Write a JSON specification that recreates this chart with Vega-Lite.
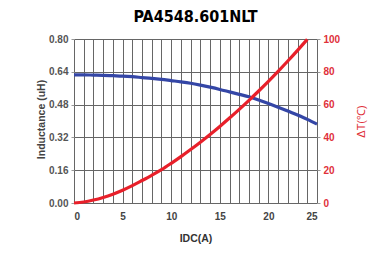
{
  "$schema": "https://vega.github.io/schema/vega-lite/v6.json",
  "width": 243,
  "height": 164,
  "autosize": "none",
  "padding": {"left": 74, "top": 39, "right": 52, "bottom": 52},
  "background": "white",
  "config": {"view": {"stroke": null}},
  "title": {
    "text": "PA4548.601NLT",
    "font": "Liberation Sans Narrow, DejaVu Sans Condensed, sans-serif",
    "fontSize": 16,
    "fontWeight": "bold",
    "color": "#000000",
    "anchor": "middle",
    "offset": 8
  },
  "datasets": {
    "ind": [
      {"idc": 0, "L": 0.625}, {"idc": 1, "L": 0.625}, {"idc": 2, "L": 0.624}, {"idc": 3, "L": 0.623},
      {"idc": 4, "L": 0.621}, {"idc": 5, "L": 0.619}, {"idc": 6, "L": 0.616}, {"idc": 7, "L": 0.612},
      {"idc": 8, "L": 0.608}, {"idc": 9, "L": 0.603}, {"idc": 10, "L": 0.597}, {"idc": 11, "L": 0.591},
      {"idc": 12, "L": 0.584}, {"idc": 13, "L": 0.575}, {"idc": 14, "L": 0.565}, {"idc": 15, "L": 0.554},
      {"idc": 16, "L": 0.542}, {"idc": 17, "L": 0.53}, {"idc": 18, "L": 0.518}, {"idc": 19, "L": 0.502},
      {"idc": 20, "L": 0.485}, {"idc": 21, "L": 0.467}, {"idc": 22, "L": 0.449}, {"idc": 23, "L": 0.429},
      {"idc": 24, "L": 0.408}, {"idc": 25, "L": 0.385}
    ],
    "temp": [
      {"idc": 0, "T": 0}, {"idc": 1, "T": 0.6}, {"idc": 2, "T": 1.8}, {"idc": 3, "T": 3.4},
      {"idc": 4, "T": 5.4}, {"idc": 5, "T": 7.8}, {"idc": 6, "T": 10.6}, {"idc": 7, "T": 13.7},
      {"idc": 8, "T": 16.9}, {"idc": 9, "T": 20.3}, {"idc": 10, "T": 24.2}, {"idc": 11, "T": 28.3},
      {"idc": 12, "T": 32.6}, {"idc": 13, "T": 37.1}, {"idc": 14, "T": 41.8}, {"idc": 15, "T": 46.7},
      {"idc": 16, "T": 51.8}, {"idc": 17, "T": 57.1}, {"idc": 18, "T": 62.6}, {"idc": 19, "T": 68.3},
      {"idc": 20, "T": 74.2}, {"idc": 21, "T": 80.3}, {"idc": 22, "T": 86.6}, {"idc": 23, "T": 93.1},
      {"idc": 24, "T": 99.8}
    ]
  },
  "encoding": {
    "x": {
      "field": "idc",
      "type": "quantitative",
      "scale": {"domain": [0, 25], "nice": false},
      "axis": {
        "title": "IDC(A)",
        "values": [0,1,2,3,4,5,6,7,8,9,10,11,12,13,14,15,16,17,18,19,20,21,22,23,24,25],
        "labelExpr": "datum.value % 5 === 0 ? datum.label : ''",
        "grid": true,
        "gridColor": "#666666",
        "gridOpacity": 1,
        "domain": false,
        "ticks": false,
        "labelPadding": 8,
        "labelFont": "Liberation Sans",
        "labelFontSize": 10,
        "labelFontWeight": "bold",
        "labelColor": "#444444",
        "titleFont": "Liberation Sans",
        "titleFontSize": 10.5,
        "titleFontWeight": "bold",
        "titleColor": "#333333",
        "titlePadding": 12
      }
    }
  },
  "layer": [
    {
      "data": {"name": "ind"},
      "mark": {"type": "line", "color": "#3446A6", "strokeWidth": 3.2, "interpolate": "monotone"},
      "encoding": {
        "y": {
          "field": "L",
          "type": "quantitative",
          "scale": {"domain": [0, 0.8], "nice": false},
          "axis": {
            "orient": "left",
            "title": "Inductance  (uH)",
            "values": [0, 0.16, 0.32, 0.48, 0.64, 0.8],
            "format": ".2f",
            "grid": true,
            "gridColor": "#666666",
            "gridOpacity": 1,
            "domain": false,
            "ticks": true,
            "tickSize": 3,
            "tickColor": "#999999",
            "labelPadding": 3,
            "labelFont": "Liberation Sans",
            "labelFontSize": 10,
            "labelFontWeight": "bold",
            "labelColor": "#555555",
            "titleFont": "Liberation Sans",
            "titleFontSize": 10.5,
            "titleFontWeight": "bold",
            "titleColor": "#444444",
            "titleX": -33,
            "titleY": 80,
            "titleAngle": 270,
            "titleAlign": "center",
            "titleBaseline": "middle"
          }
        }
      }
    },
    {
      "data": {"name": "temp"},
      "mark": {"type": "line", "color": "#E8202A", "strokeWidth": 3.2, "interpolate": "monotone"},
      "encoding": {
        "y": {
          "field": "T",
          "type": "quantitative",
          "scale": {"domain": [0, 100], "nice": false},
          "axis": {
            "orient": "right",
            "title": "ΔT(℃)",
            "values": [0, 20, 40, 60, 80, 100],
            "grid": false,
            "domain": false,
            "ticks": true,
            "tickSize": 3,
            "tickColor": "#999999",
            "labelPadding": 3,
            "labelFont": "Liberation Sans",
            "labelFontSize": 10,
            "labelFontWeight": "bold",
            "labelColor": "#E0303A",
            "titleFont": "Liberation Sans",
            "titleFontSize": 11,
            "titleFontWeight": "normal",
            "titleColor": "#E0303A",
            "titleX": 44,
            "titleY": 82,
            "titleAngle": 270,
            "titleAlign": "center",
            "titleBaseline": "middle"
          }
        }
      }
    }
  ],
  "resolve": {"scale": {"y": "independent"}}
}
